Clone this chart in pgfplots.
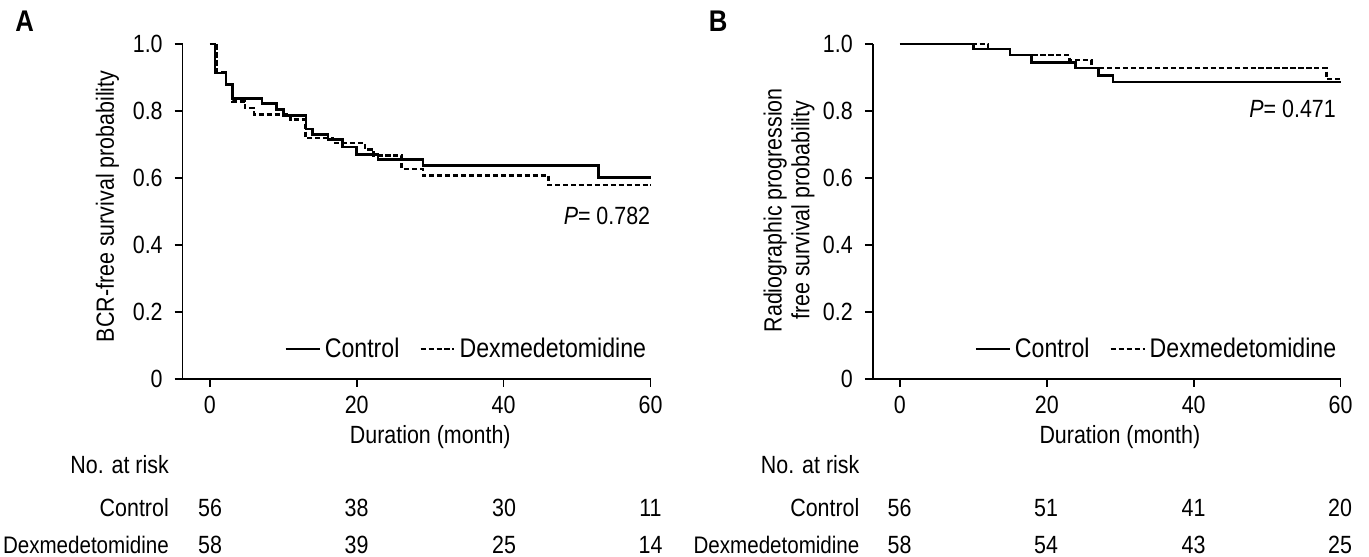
\documentclass[border=0pt]{standalone}
\usepackage{fontspec}
\setmainfont[FakeStretch=0.86]{Liberation Sans}
\usepackage{pgfplots}
\pgfplotsset{compat=1.18}
\begin{document}
\pgfplotsset{
  kmstyle/.style={
    scale only axis, width=234.75pt, height=168pt,
    xmin=-3.7, xmax=60, ymin=0, ymax=1,
    axis x line*=bottom, axis y line*=left,
    axis line style={line width=0.85pt, -},
    every tick/.style={line width=0.85pt, black},
    tick align=outside, major tick length=4pt,
    xtick={0,20,40,60}, xticklabels={0,20,40,60},
    ytick={0,0.2,0.4,0.6,0.8,1.0}, yticklabels={0,0.2,0.4,0.6,0.8,1.0},
    /pgf/number format/assume math mode=true,
    tick label style={font=\fontsize{12.5}{14}\selectfont},
    yticklabel style={xshift=-2.5pt},
    xticklabel style={yshift=-1pt},
    clip=false,
    legend style={draw=none, fill=none, font=\fontsize{13.5}{15}\selectfont,
      inner xsep=0pt,
      legend columns=-1, /tikz/every even column/.append style={column sep=8pt}},
    legend image code/.code={\draw[#1] (0pt,0pt) -- (17pt,0pt);},
  },
  ctrl/.style={black, line width=1.3pt, const plot},
  dex/.style={black, line width=1.2pt, dash pattern=on 2.6pt off 1.4pt, const plot},
}
\begin{tikzpicture}[font=\fontsize{12.5}{14}\selectfont]
\path[use as bounding box] (0pt,0pt) rectangle (684.5pt,279pt);
% Panel A
\begin{axis}[kmstyle, at={(89.25pt,89pt)}, anchor=south west,
  legend style={at={(axis cs:60,0.089)}, anchor=east}]
\addplot[ctrl] coordinates {(0,1) (0.7,0.913) (2.2,0.878) (3.1,0.836) (7.1,0.821) (9.1,0.804) (10.0,0.786) (13.1,0.746) (14.0,0.729) (16.1,0.714) (18.1,0.692) (20.0,0.670) (22.9,0.655) (29.0,0.636) (52.9,0.600) (60,0.600)};
\addlegendentry{Control}
\addplot[dex] coordinates {(0,1) (1.0,0.914) (2.2,0.878) (3.1,0.828) (4.8,0.808) (6.0,0.789) (11.0,0.774) (13.0,0.719) (16.8,0.704) (21.1,0.685) (22.3,0.667) (26.1,0.627) (29.0,0.607) (46.1,0.578) (60,0.578)};
\addlegendentry{Dexmedetomidine}
\node[anchor=base east, inner sep=0pt] at (axis cs:60,0.461) {\textit{P}= 0.782};
\end{axis}
% Panel B
\begin{axis}[kmstyle, at={(435.5pt,89pt)}, anchor=south west,
  legend style={at={(axis cs:60,0.089)}, anchor=east}]
\addplot[ctrl] coordinates {(0,1) (10.0,0.984) (15.0,0.967) (17.9,0.944) (23.9,0.928) (27.0,0.906) (29.0,0.886) (60,0.886)};
\addlegendentry{Control}
\addplot[dex] coordinates {(0,1) (12.0,0.984) (15.0,0.967) (23.1,0.951) (26.1,0.928) (58.1,0.895) (60,0.895)};
\addlegendentry{Dexmedetomidine}
\node[anchor=base east, inner sep=0pt] at (axis cs:59.4,0.780) {\textit{P}= 0.471};
\end{axis}
% Panel letters
\node[anchor=base, inner sep=0pt, font=\fontsize{15}{17}\selectfont\bfseries] at (10pt,263pt) {A};
\node[anchor=base, inner sep=0pt, font=\fontsize{15}{17}\selectfont\bfseries] at (358pt,263pt) {B};
% y labels
\node[rotate=90, inner sep=0pt] at (51.5pt,175.5pt) {BCR-free survival probability};
\node[rotate=90, inner sep=0pt, align=center] at (393.5pt,173.5pt) {Radiographic progression\\free survival probability};
% x labels
\node[anchor=base, inner sep=0pt] at (213.5pt,56.5pt) {Duration (month)};
\node[anchor=base, inner sep=0pt] at (559.5pt,56.5pt) {Duration (month)};
% risk table A
\node[anchor=base east, inner sep=0pt] at (82.5pt,41.5pt) {No. at risk};
\node[anchor=base east, inner sep=0pt] at (82.5pt,20pt) {Control};
\node[anchor=base east, inner sep=0pt, font=\fontsize{12}{14}\selectfont] at (82.5pt,1.5pt) {Dexmedetomidine};
\node[anchor=base, inner sep=0pt] at (103pt,20pt) {56};
\node[anchor=base, inner sep=0pt] at (176.5pt,20pt) {38};
\node[anchor=base, inner sep=0pt] at (250.5pt,20pt) {30};
\node[anchor=base, inner sep=0pt] at (324pt,20pt) {11};
\node[anchor=base, inner sep=0pt] at (103pt,1.5pt) {58};
\node[anchor=base, inner sep=0pt] at (176.5pt,1.5pt) {39};
\node[anchor=base, inner sep=0pt] at (250.5pt,1.5pt) {25};
\node[anchor=base, inner sep=0pt] at (324pt,1.5pt) {14};
% risk table B
\node[anchor=base east, inner sep=0pt] at (429pt,41.5pt) {No. at risk};
\node[anchor=base east, inner sep=0pt] at (429pt,20pt) {Control};
\node[anchor=base east, inner sep=0pt, font=\fontsize{12}{14}\selectfont] at (429pt,1.5pt) {Dexmedetomidine};
\node[anchor=base, inner sep=0pt] at (449pt,20pt) {56};
\node[anchor=base, inner sep=0pt] at (522.5pt,20pt) {51};
\node[anchor=base, inner sep=0pt] at (596.5pt,20pt) {41};
\node[anchor=base, inner sep=0pt] at (670pt,20pt) {20};
\node[anchor=base, inner sep=0pt] at (449pt,1.5pt) {58};
\node[anchor=base, inner sep=0pt] at (522.5pt,1.5pt) {54};
\node[anchor=base, inner sep=0pt] at (596.5pt,1.5pt) {43};
\node[anchor=base, inner sep=0pt] at (670pt,1.5pt) {25};
\end{tikzpicture}
\end{document}
